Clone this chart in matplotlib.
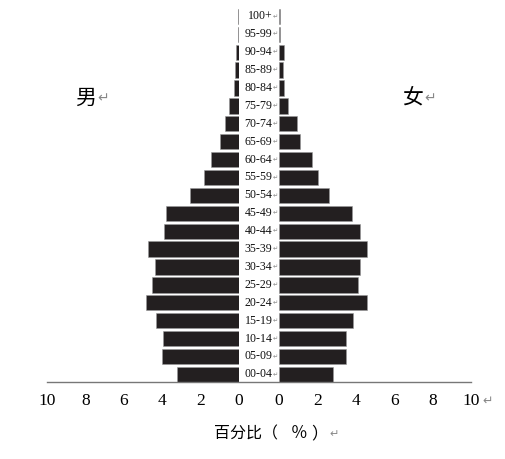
import numpy as np
import matplotlib
matplotlib.use("Agg")
import matplotlib.pyplot as plt
import matplotlib.transforms as mtransforms
from matplotlib.lines import Line2D

# age groups, bottom to top
ages = ['00-04', '05-09', '10-14', '15-19', '20-24', '25-29', '30-34', '35-39',
        '40-44', '45-49', '50-54', '55-59', '60-64', '65-69', '70-74', '75-79',
        '80-84', '85-89', '90-94', '95-99', '100+']
male = [3.21, 4.01, 3.96, 4.31, 4.83, 4.53, 4.39, 4.72, 3.89, 3.80, 2.55,
        1.81, 1.44, 1.00, 0.74, 0.54, 0.24, 0.21, 0.17, 0.07, 0.04]
female = [2.83, 3.49, 3.49, 3.87, 4.58, 4.13, 4.20, 4.58, 4.22, 3.80, 2.60,
          2.03, 1.70, 1.09, 0.92, 0.48, 0.26, 0.21, 0.26, 0.07, 0.05]
xticks = [0, 2, 4, 6, 8, 10]

W, H = 505, 459
fig = plt.figure(figsize=(W / 100, H / 100), dpi=100)

bar_h = 0.85
y = np.arange(len(ages))
ylo, yhi = -bar_h / 2, 20.5
px_per_row = 17.9
ax_bottom = 382
ax_h = (yhi - ylo) * px_per_row

ax_l = fig.add_axes([47 / W, (H - ax_bottom) / H, 192 / W, ax_h / H])
ax_r = fig.add_axes([279 / W, (H - ax_bottom) / H, 192 / W, ax_h / H])

bar_color = '#231f20'
ax_l.barh(y, male, height=bar_h, color=bar_color, edgecolor='#9a9a9a', linewidth=0.4)
ax_r.barh(y, female, height=bar_h, color=bar_color, edgecolor='#9a9a9a', linewidth=0.4)

ax_l.set_xlim(10, 0)
ax_r.set_xlim(0, 10)
for ax in (ax_l, ax_r):
    ax.set_ylim(ylo, yhi)
    ax.set_yticks([])
    ax.set_xticks(xticks)
    ax.set_xticklabels([str(v) for v in xticks], family='Liberation Serif', fontsize=12.5)
    ax.tick_params(axis='x', length=0, pad=8)
    for s in ax.spines.values():
        s.set_visible(False)
    ax.patch.set_alpha(0)

# base line across both halves
fig.add_artist(Line2D([47 / W, 471 / W], [(H - ax_bottom) / H] * 2,
                      transform=fig.transFigure, color='#777777', linewidth=1.0))

# age labels in the middle gap
trans = mtransforms.blended_transform_factory(fig.transFigure, ax_r.transData)
for yi, lab in zip(y, ages):
    fig.text(272.5 / W, yi, lab, transform=trans, ha='right', va='center',
             family='Liberation Serif', fontsize=8.6, color='#111111')
    fig.text(273 / W, yi, '\u21b5', transform=trans, ha='left', va='center',
             family='DejaVu Sans', fontsize=4.5, color='#888888')

# return marks and titles
fig.text(482 / W, 1 - 401 / H, '\u21b5', ha='left', va='center',
         family='DejaVu Sans', fontsize=9, color='#888888')
cjk = ['Noto Sans CJK SC', 'DejaVu Sans']
fig.text(85.5 / W, 1 - 98 / H, '男', ha='center', va='center', family=cjk, fontsize=15)
fig.text(97 / W, 1 - 98 / H, '\u21b5', ha='left', va='center',
         family='DejaVu Sans', fontsize=10, color='#888888')
fig.text(412 / W, 1 - 98 / H, '女', ha='center', va='center', family=cjk, fontsize=15)
fig.text(424 / W, 1 - 98 / H, '\u21b5', ha='left', va='center',
         family='DejaVu Sans', fontsize=10, color='#888888')

# x-axis title, pieces spaced like the wide Song-style punctuation
ty = 1 - 434 / H
fig.text(214 / W, ty, '百分比（', ha='left', va='center', family=cjk, fontsize=11.5)
fig.text(299 / W, ty, '％', ha='center', va='center', family=cjk, fontsize=12)
fig.text(311 / W, ty, '）', ha='left', va='center', family=cjk, fontsize=12)
fig.text(329 / W, ty, '\u21b5', ha='left', va='center',
         family='DejaVu Sans', fontsize=8, color='#888888')

fig.savefig('out.png', dpi=100)
